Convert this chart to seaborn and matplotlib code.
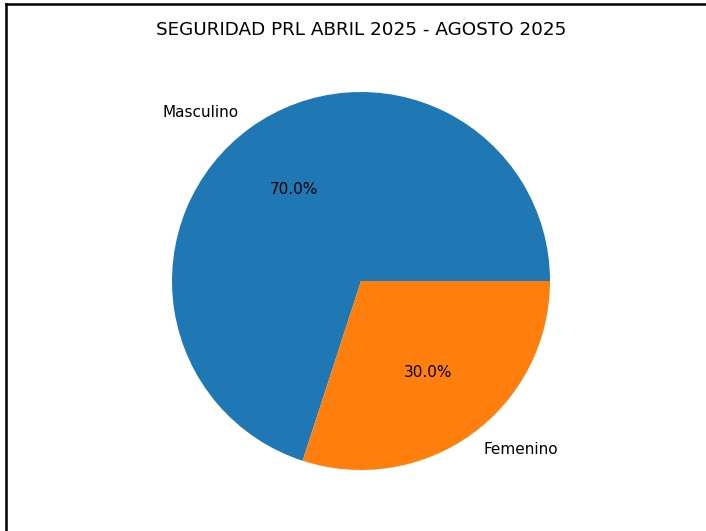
import matplotlib
matplotlib.use("Agg")
import matplotlib.pyplot as plt
import seaborn as sns
from matplotlib.lines import Line2D

categories = ["Masculino", "Femenino"]
values = [70, 30]
title = "SEGURIDAD PRL ABRIL 2025 - AGOSTO 2025"

plt.rcParams['font.family'] = ['DejaVu Sans']
plt.rcParams['text.color'] = 'black'
colors = sns.color_palette("tab10")[:2]

fig = plt.figure(figsize=(7.06, 5.31), dpi=100)
ax = fig.add_axes([0.1767, 0.0259, 0.6693, 0.8898])
ax.pie(values, labels=categories, autopct="%1.1f%%", colors=colors,
       wedgeprops={"linewidth": 0, "edgecolor": "none"},
       textprops={"fontsize": 11, "color": "black"})
ax.set_title(title, fontsize=13.2, color="black", pad=7)

# screenshot frame lines (top and left)
fig.add_artist(Line2D([0.0092, 1.0], [0.9925, 0.9925], transform=fig.transFigure,
                      color="black", linewidth=1.8))
fig.add_artist(Line2D([0.0092, 0.0092], [0.0, 0.9925], transform=fig.transFigure,
                      color="black", linewidth=1.8))

fig.savefig("out.png", dpi=100)
